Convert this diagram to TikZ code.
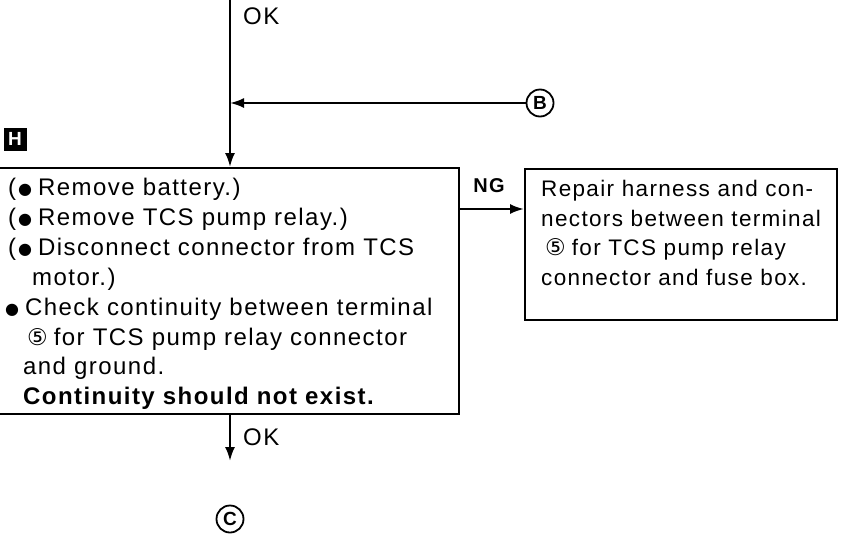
\documentclass[tikz,border=0pt]{standalone}
\usepackage{fontspec}
\setmainfont{Liberation Sans}[LetterSpace=6]
\newfontfamily\numfont{DejaVu Sans}
\usetikzlibrary{positioning, calc, arrows.meta}
\newcommand{\dotmark}{\raisebox{1pt}{\numfont\fontsize{16}{16}\selectfont ●}}
\newcommand{\termfive}{{\numfont\fontsize{23}{23}\selectfont ⑤}}
\tikzset{
    flowbox/.style={rectangle, draw, line width=2.2pt, inner sep=0pt},
    boxtext/.style={align=left, inner sep=0pt, font=\fontsize{24}{29.9}\selectfont},
    flow/.style={line width=2.2pt},
    flowarrow/.style={line width=2.2pt, -{Latex[length=14pt, width=10pt]}},
    circref/.style={circle, draw, line width=1.8pt, inner sep=0pt, minimum size=27pt, font=\bfseries\fontsize{19}{19}\selectfont},
    steplabel/.style={rectangle, fill=black, text=white, inner sep=0pt, minimum size=23pt, font=\bfseries\fontsize{19}{19}\selectfont},
    oklabel/.style={anchor=west, inner sep=0pt, font=\fontsize{24}{24}\selectfont},
    nglabel/.style={inner sep=0pt, font=\bfseries\fontsize{20}{20}\selectfont},
}

\begin{document}
\begin{tikzpicture}[x=1pt, y=-1pt]
    \useasboundingbox (0,0) rectangle (851,536);
    \clip (0,0) rectangle (851,536);

    % Einlauf von oben
    \coordinate (top) at (230,-2);
    \coordinate (join) at (230,103);
    \node[oklabel] (okA) at (243,16) {OK};
    \node[circref] (refB) at (540,103) {B};
    \node[steplabel] (stepH) at (15,139) {H};

    % Pruefschritt H
    \node[flowbox, minimum width=476pt, minimum height=246pt, anchor=north east] (check) at (460,167) {};
    \node[boxtext, anchor=north west] (checktext) at (5,178) {%
        \hspace*{3pt}(\hspace{2pt}\dotmark\hspace{6pt}Remove battery.)\\
        \hspace*{3pt}(\hspace{2pt}\dotmark\hspace{6pt}Remove TCS pump relay.)\\
        \hspace*{3pt}(\hspace{2pt}\dotmark\hspace{6pt}Disconnect connector from TCS\\
        \hspace*{27pt}motor.)\\
        \dotmark\hspace{6pt}Check continuity between terminal\\
        \hspace*{22pt}\termfive\hspace{6pt}for TCS pump relay connector\\
        \hspace*{18pt}and ground.\\
        \hspace*{18pt}\textbf{Continuity should not exist.}};

    % Reparatur
    \node[flowbox, minimum width=312pt, minimum height=151pt, anchor=north west] (repair) at (524,168) {};
    \node[boxtext, anchor=north west, font=\fontsize{22.5}{29.6}\selectfont] (repairtext) at (541,180) {%
        Repair harness and con-\\
        nectors between terminal\\
        \hspace*{4pt}\termfive\hspace{6pt}for TCS pump relay\\
        connector and fuse box.};

    % Verbindungen
    \coordinate (ng) at ([yshift=-42pt]check.north east);
    \coordinate (down) at (230,461);
    \node[circref] (refC) at (230,519) {C};
    \node[nglabel] (ngtext) at (489,186) {NG};
    \node[oklabel] (okB) at (243,437) {OK};

    \draw[flow] (top) -- (join);
    \draw[flowarrow] (refB) -- (join);
    \draw[flowarrow] (join) -- (join |- check.north);
    \draw[flowarrow] (ng) -- (ng -| repair.west);
    \draw[flowarrow] (join |- check.south) -- (down);
\end{tikzpicture}
\end{document}
